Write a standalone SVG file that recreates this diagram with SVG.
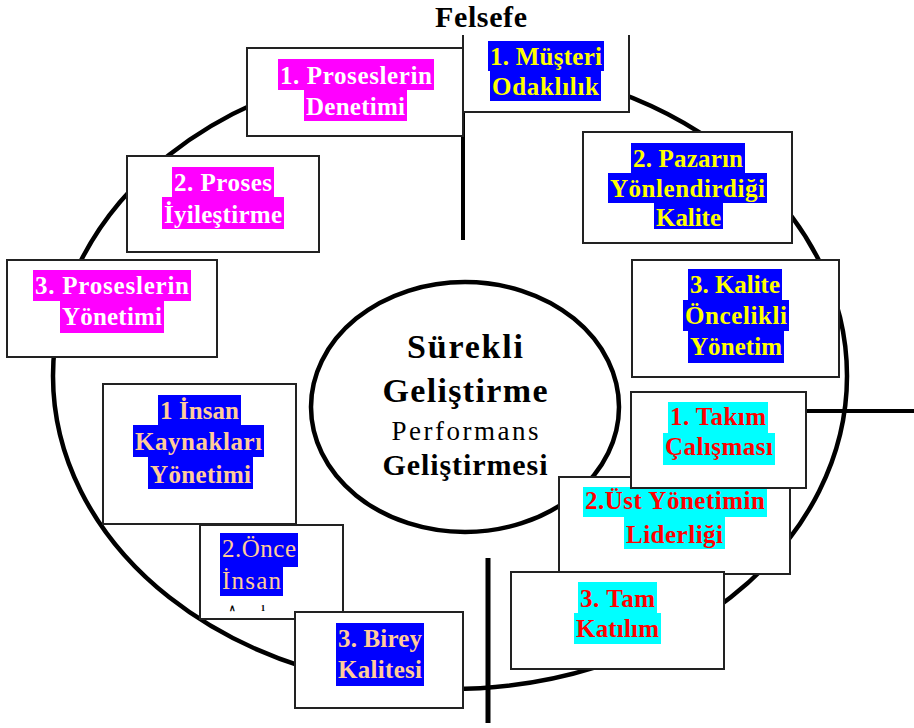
<svg xmlns="http://www.w3.org/2000/svg" width="914" height="728" viewBox="0 0 914 728" font-family="Liberation Serif, serif">
<style>
.bg{fill:#fff}
.ring{fill:none;stroke:#000;stroke-width:4.5}
.box{fill:#fff;stroke:#222;stroke-width:2}
.ln{stroke:#000;fill:none}
.t{font-family:'Liberation Serif',serif;font-weight:bold;font-size:25px;text-anchor:middle}
.n{font-weight:normal}
.mg{fill:#ff00ff}.bl{fill:#0000ff}.cy{fill:#00ffff}
.w{fill:#fff}.y{fill:#ffff00}.p{fill:#ffcc99}.r{fill:#ff0000}.k{fill:#000}
</style>
<rect class="bg" x="0" y="0" width="914" height="728"/>
<ellipse id="outer-ring" class="ring" cx="450" cy="376" rx="397" ry="313"/>
<g id="connectors">
<line class="ln" x1="463" y1="112" x2="463" y2="240" stroke-width="4"/>
<line class="ln" x1="806" y1="411" x2="914" y2="411" stroke-width="4"/>
<line class="ln" x1="488" y1="558" x2="488" y2="723" stroke-width="5"/>
</g>
<text id="title" class="t k" x="481" y="27" textLength="92" style="font-size:30px">Felsefe</text>
<g id="center">
<ellipse class="ring" cx="465" cy="407" rx="154" ry="125" style="fill:#fff"/>
<text class="t k" x="465" y="358" style="font-size:34px" textLength="116">Sürekli</text>
<text class="t k" x="465" y="402" style="font-size:34px" textLength="165">Geliştirme</text>
<text class="t k n" x="465" y="440" style="font-size:27px" textLength="147">Performans</text>
<text class="t k" x="465" y="475" style="font-size:30px" textLength="165">Geliştirmesi</text>
</g>
<g id="proseslerin-denetimi">
<rect class="box" x="247" y="48" width="216" height="88"/>
<rect class="mg" x="278" y="59" width="156" height="31"/><rect class="mg" x="304" y="90" width="103" height="31"/>
<text class="t w" x="356" y="84" textLength="152">1. Proseslerin</text>
<text class="t w" x="355.5" y="115" textLength="99">Denetimi</text>
</g>
<g id="musteri-odaklilik">
<rect class="bg" x="463" y="33" width="166" height="79"/>
<path class="box" d="M463,35 V112 H629 V35" style="fill:none"/>
<rect class="bl" x="488" y="41" width="116" height="30"/><rect class="bl" x="490" y="71" width="111" height="30"/>
<text class="t y" x="546" y="65" textLength="112">1. Müşteri</text>
<text class="t y" x="545.5" y="95" textLength="107">Odaklılık</text>
</g>
<g id="proses-iyilestirme">
<rect class="box" x="127" y="156" width="192" height="96"/>
<rect class="mg" x="172" y="167" width="102" height="30"/><rect class="mg" x="162" y="197" width="122" height="32"/>
<text class="t w" x="223" y="191" textLength="98">2. Proses</text>
<text class="t w" x="223" y="223" textLength="118">İyileştirme</text>
</g>
<g id="proseslerin-yonetimi">
<rect class="box" x="7" y="260" width="210" height="97"/>
<rect class="mg" x="33" y="270" width="158" height="31"/><rect class="mg" x="60" y="301" width="104" height="32"/>
<text class="t w" x="112" y="294" textLength="154">3. Proseslerin</text>
<text class="t w" x="112" y="325" textLength="100">Yönetimi</text>
</g>
<g id="pazarin-yonlendirdigi-kalite">
<rect class="box" x="583" y="132" width="209" height="111"/>
<rect class="bl" x="631" y="143" width="114" height="30"/><rect class="bl" x="608" y="173" width="159" height="30"/><rect class="bl" x="654" y="203" width="69" height="26"/>
<text class="t y" x="688" y="167" textLength="110">2. Pazarın</text>
<text class="t y" x="687.5" y="197" textLength="155">Yönlendirdiği</text>
<text class="t y" x="688.5" y="226" textLength="65">Kalite</text>
</g>
<g id="kalite-oncelikli-yonetim">
<rect class="box" x="632" y="260" width="207" height="117"/>
<rect class="bl" x="688" y="269" width="94" height="31"/><rect class="bl" x="683" y="300" width="106" height="31"/><rect class="bl" x="688" y="331" width="96" height="32"/>
<text class="t y" x="735" y="293" textLength="90">3. Kalite</text>
<text class="t y" x="736" y="324" textLength="102">Öncelikli</text>
<text class="t y" x="736" y="355" textLength="92">Yönetim</text>
</g>
<g id="insan-kaynaklari-yonetimi">
<rect class="box" x="103" y="384" width="193" height="140"/>
<rect class="bl" x="158" y="395" width="83" height="30"/><rect class="bl" x="133" y="425" width="131" height="32"/><rect class="bl" x="148" y="457" width="105" height="32"/>
<text class="t p" x="199.5" y="419" textLength="79">1 İnsan</text>
<text class="t p" x="198.5" y="450" textLength="127">Kaynakları</text>
<text class="t p" x="200.5" y="483" textLength="101">Yönetimi</text>
</g>
<g id="once-insan">
<rect class="box" x="200" y="525" width="143" height="94"/>
<rect class="bl" x="220" y="533" width="78" height="34"/><rect class="bl" x="220" y="567" width="63" height="29"/>
<text class="t p n" x="259" y="557" textLength="74">2.Önce</text>
<text class="t p n" x="251.5" y="589" textLength="59">İnsan</text>
<text class="t k" x="232" y="611" style="font-size:9px">∧</text>
<text class="t k" x="263" y="611" style="font-size:9px">1</text>
</g>
<g id="birey-kalitesi">
<rect class="box" x="295" y="612" width="168" height="96"/>
<rect class="bl" x="336" y="623" width="88" height="30"/><rect class="bl" x="336" y="653" width="88" height="33"/>
<text class="t p" x="380" y="647" textLength="84">3. Birey</text>
<text class="t p" x="380" y="678" textLength="84">Kalitesi</text>
</g>
<g id="ust-yonetimin-liderligi">
<rect class="box" x="559" y="477" width="231" height="97"/>
<rect class="cy" x="583" y="487" width="184" height="30"/><rect class="cy" x="624" y="517" width="101" height="32"/>
<text class="t r" x="675" y="509" textLength="180">2.Üst Yönetimin</text>
<text class="t r" x="674.5" y="543" textLength="97">Liderliği</text>
</g>
<g id="takim-calismasi">
<rect class="box" x="631" y="392" width="175" height="96"/>
<rect class="cy" x="668" y="402" width="100" height="31"/><rect class="cy" x="663" y="433" width="112" height="32"/>
<text class="t r" x="718" y="425" textLength="96">1. Takım</text>
<text class="t r" x="719" y="455" textLength="108">Çalışması</text>
</g>
<g id="tam-katilim">
<rect class="box" x="511" y="572" width="213" height="97"/>
<rect class="cy" x="578" y="582" width="79" height="31"/><rect class="cy" x="574" y="613" width="87" height="31"/>
<text class="t r" x="617.5" y="607" textLength="75">3. Tam</text>
<text class="t r" x="617.5" y="637" textLength="83">Katılım</text>
</g>
</svg>
